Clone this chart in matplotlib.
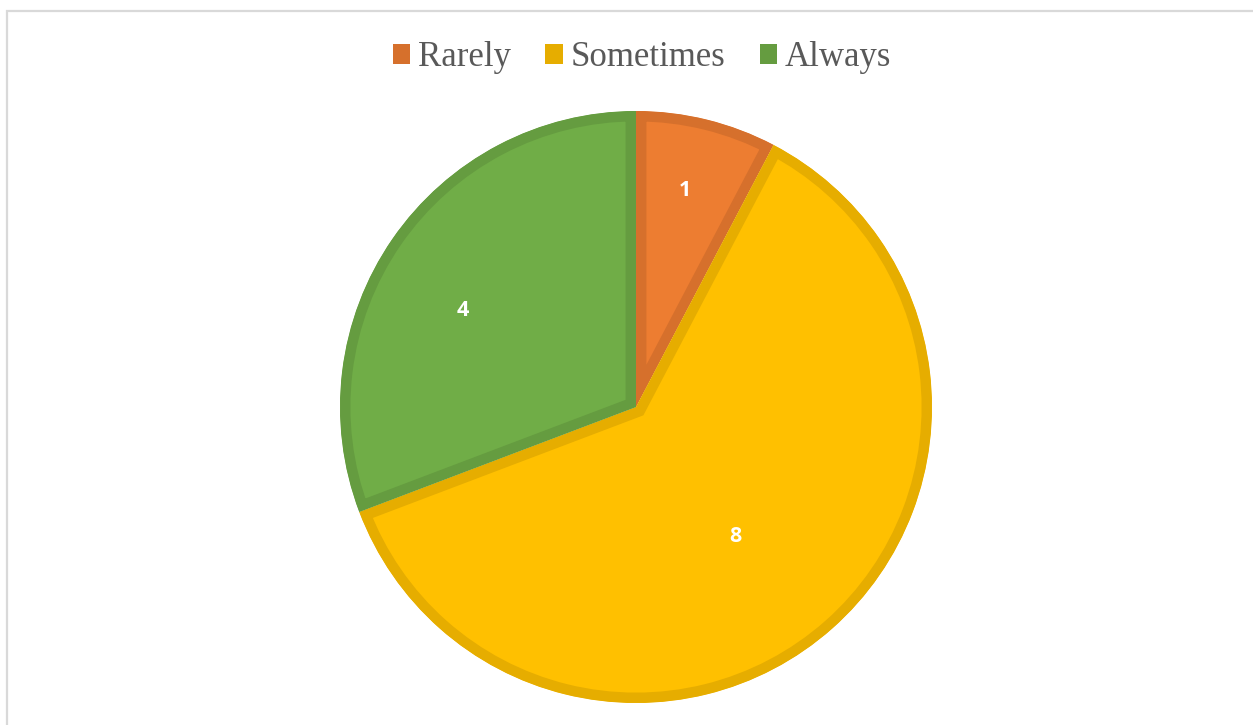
import matplotlib.pyplot as plt
import numpy as np
from matplotlib.patches import Patch, Rectangle

categories = ["Rarely", "Sometimes", "Always"]
counts = [1, 8, 4]
fill_colors = ["#ED7D31", "#FFC000", "#70AD47"]
edge_colors = ["#D6702C", "#E6AD00", "#659C40"]
# value label placement: fraction of radius and angular nudge (degrees)
label_radius = [0.75, 0.55, 0.67]
label_shift = [1.0, -4.0, 5.5]

fig = plt.figure(figsize=(12.53, 7.25), dpi=100)
W, H = 1253, 725

# light chart-area frame
fig.patches.append(Rectangle((7 / W, -0.1), 1.2, (H - 11) / H + 0.1,
                             transform=fig.transFigure, facecolor="none",
                             edgecolor="#D9D9D9", linewidth=1.6))

cx, cy, r = 636, 407, 296
ax = fig.add_axes([(cx - r) / W, (H - cy - r) / H, 2 * r / W, 2 * r / H])
wedges, _ = ax.pie(counts, colors=fill_colors, startangle=90, counterclock=False,
                   radius=1.0, wedgeprops={"linewidth": 15})
ax.set_xlim(-1, 1)
ax.set_ylim(-1, 1)
ax.set_aspect("equal")
ax.axis("off")

for wedge, ec in zip(wedges, edge_colors):
    # inner border only: wide stroke clipped to the wedge outline
    wedge.set_edgecolor(ec)
    wedge.set_clip_on(True)
    wedge.set_clip_path(wedge.get_path(), ax.transData)

for wedge, n, rf, dt in zip(wedges, counts, label_radius, label_shift):
    mid = np.deg2rad((wedge.theta1 + wedge.theta2) / 2 + dt)
    ax.text(rf * np.cos(mid), rf * np.sin(mid), str(n), ha="center", va="center",
            color="white", fontsize=15.5, fontweight="bold",
            family=["Open Sans", "DejaVu Sans"])

handles = [Patch(facecolor=c, edgecolor="none") for c in edge_colors]
fig.legend(handles, categories, loc="center", bbox_to_anchor=(642 / W, 1 - 58 / H),
           ncol=3, frameon=False, prop={"family": "Liberation Serif", "size": 25},
           labelcolor="#595959", handlelength=0.5, handleheight=0.5,
           handletextpad=0.22, columnspacing=1.0, borderpad=0)

fig.savefig("out.png", dpi=100)
